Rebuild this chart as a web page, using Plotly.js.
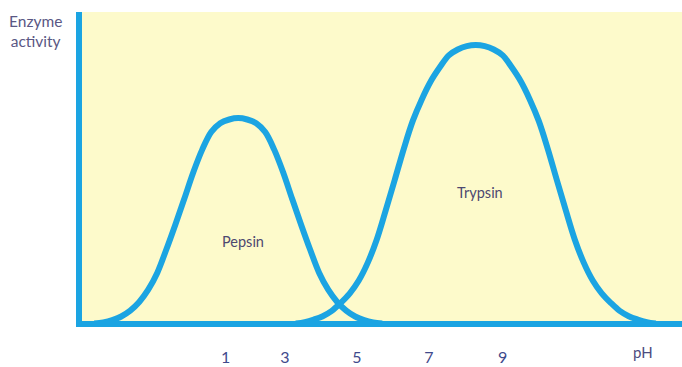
<!DOCTYPE html>
<html>
<head>
<meta charset="utf-8">
<script src="https://cdn.plot.ly/plotly-3.0.1.min.js"></script>
<style>
  html, body { margin: 0; padding: 0; background: #ffffff; }
  #chart { width: 682px; height: 367px; }
</style>
</head>
<body>
<div id="chart"></div>
<script>
// pH vs relative enzyme activity (trypsin peak = 100)
const pepsinPH = [-2.3, -2.05, -1.8, -1.55, -1.3, -1.05, -0.8, -0.55, -0.3, -0.05, 0.2,
                  0.45, 0.7, 0.95, 1.2, 1.45, 1.7, 1.95, 2.2, 2.45, 2.7, 2.95, 3.2,
                  3.45, 3.7, 3.95, 4.2, 4.45, 4.7, 4.95, 5.2, 5.45, 5.7];
const pepsinAct = [0.2, 0.6, 1.4, 2.7, 4.8, 7.9, 12.3, 18.3, 26.6, 35.5, 44.8,
                   54.3, 62.5, 68.8, 72.0, 73.3, 73.8, 73.3, 72.0, 68.8, 62.5, 54.3, 44.8,
                   35.5, 26.6, 18.3, 12.3, 7.9, 4.8, 2.7, 1.4, 0.6, 0.2];

const trypsinPH = [3.3, 3.55, 3.8, 4.05, 4.3, 4.55, 4.8, 5.05, 5.3, 5.55, 5.8,
                   6.05, 6.3, 6.55, 6.8, 7.05, 7.3, 7.55, 7.8, 8.05, 8.3,
                   8.55, 8.8, 9.05, 9.3, 9.55, 9.8, 10.05, 10.3, 10.55, 10.8,
                   11.05, 11.3, 11.55, 11.8, 12.05, 12.3, 12.55, 12.8, 13.05, 13.3];
const trypsinAct = [0.2, 0.7, 1.6, 2.8, 4.7, 7.6, 11.0, 15.6, 22.0, 30.3, 40.8,
                    51.7, 62.8, 72.8, 80.5, 87.0, 92.0, 96.3, 98.4, 99.6, 100,
                    99.6, 98.4, 96.3, 92.0, 87.0, 80.5, 72.8, 62.8, 51.7, 40.8,
                    30.3, 22.0, 15.6, 11.0, 7.6, 4.7, 2.8, 1.6, 0.7, 0.2];

const tickPos = [1.35, 3, 5, 7, 9.05];
const tickText = ['1', '3', '5', '7', '9'];

const BLUE = '#1ba4e2';
const INK = '#4a4a86';

const curve = (x, y) => ({
  x, y, type: 'scatter', mode: 'lines', hoverinfo: 'skip',
  line: { color: BLUE, width: 6, shape: 'spline', smoothing: 1 },
});

Plotly.newPlot('chart',
  [curve(pepsinPH, pepsinAct), curve(trypsinPH, trypsinAct)],
  {
    width: 682, height: 367,
    paper_bgcolor: '#ffffff',
    plot_bgcolor: '#fdfacb',
    showlegend: false,
    font: { family: 'Lato, "Open Sans", sans-serif', color: INK },
    margin: { l: 82, r: 0, t: 12, b: 46, pad: 0 },
    xaxis: {
      range: [-2.64, 14.03], showgrid: false, zeroline: false,
      showline: true, linecolor: BLUE, linewidth: 6,
      tickmode: 'array', tickvals: tickPos, ticktext: tickText,
      ticks: '', ticklabelstandoff: 17,
      tickfont: { size: 16, color: '#3f4a8c' },
    },
    yaxis: {
      range: [1.08, 111.83], showgrid: false, zeroline: false,
      showline: true, linecolor: BLUE, linewidth: 6,
      showticklabels: false, ticks: '',
    },
    annotations: [
      { text: 'Enzyme<br>activity', xref: 'paper', yref: 'paper', x: -0.077, y: 0.937,
        xanchor: 'center', yanchor: 'middle', showarrow: false,
        font: { size: 15.5, color: '#5a5784' } },
      { text: 'pH', xref: 'paper', yref: 'paper', x: 0.935, y: -0.1,
        xanchor: 'center', yanchor: 'middle', showarrow: false,
        font: { size: 15, color: '#4c4c80' } },
      { text: 'Pepsin', x: 1.83, y: 29.7, showarrow: false,
        font: { size: 14.5, color: '#4d4870' } },
      { text: 'Trypsin', x: 8.42, y: 47.3, showarrow: false,
        font: { size: 14.5, color: '#4d4870' } },
    ],
  },
  { displayModeBar: false, staticPlot: true });
</script>
</body>
</html>
